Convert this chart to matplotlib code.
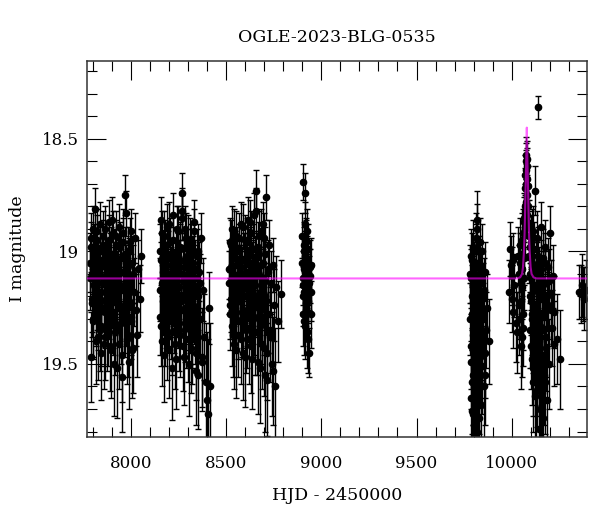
import matplotlib
matplotlib.use('Agg')
import matplotlib.pyplot as plt
from matplotlib.ticker import MultipleLocator

plt.rcParams['font.family'] = ['DejaVu Serif']

# season 1
s1_hjd = [7786, 7789, 7791, 7795, 7798, 7801, 7804, 7806, 7810, 7813,
          7817, 7820, 7823, 7827, 7830, 7834, 7837, 7841, 7844, 7848,
          7851, 7855, 7858, 7862, 7866, 7869, 7873, 7876, 7880, 7884,
          7887, 7891, 7895, 7898, 7902, 7906, 7909, 7913, 7917, 7921,
          7924, 7928, 7932, 7936, 7940, 7943, 7947, 7951, 7955, 7959,
          7963, 7967, 7971, 7975, 7979, 7983, 7987, 7991, 7995, 7999,
          8003, 8008, 8012, 8017, 8022, 8028, 8034, 8040, 8047, 8056,
          7788, 7793, 7797, 7800, 7803, 7808, 7812, 7815, 7819, 7822,
          7825, 7829, 7832, 7836, 7839, 7843, 7846, 7850, 7853, 7857,
          7860, 7864, 7867, 7871, 7875, 7878, 7882, 7886, 7889, 7893,
          7897, 7900, 7904, 7908, 7911, 7915, 7919, 7922, 7926, 7930,
          7934, 7938, 7942, 7945, 7949, 7953, 7957, 7961, 7965, 7969,
          7973, 7977, 7981, 7985, 7989, 7993, 7997, 8001, 8006, 8014]
s1_mag = [19.05, 19.47, 18.98, 19.21, 19.10, 18.90, 19.30, 19.15, 18.81, 19.02,
          19.26, 19.12, 18.95, 19.38, 19.08, 19.18, 18.88, 19.22, 19.33, 19.04,
          19.14, 18.93, 19.41, 19.11, 19.27, 18.99, 19.16, 19.35, 19.06, 18.87,
          19.24, 19.13, 19.44, 19.01, 19.19, 18.92, 19.29, 19.09, 19.36, 18.97,
          19.20, 19.52, 19.07, 18.89, 19.25, 19.15, 19.32, 19.03, 19.46, 18.96,
          19.17, 18.75, 19.28, 19.10, 19.39, 19.00, 19.23, 19.49, 19.12, 18.91,
          19.31, 19.05, 19.43, 19.18, 18.94, 19.26, 19.37, 19.08, 19.21, 19.02,
          19.12, 18.94, 19.23, 19.07, 19.31, 18.99, 19.16, 19.40, 19.03, 19.20,
          18.91, 19.28, 19.10, 19.35, 19.00, 19.18, 19.45, 19.06, 18.97, 19.25,
          19.13, 19.38, 18.90, 19.21, 19.08, 19.33, 19.15, 18.95, 19.42, 19.04,
          19.19, 18.86, 19.27, 19.11, 19.50, 19.02, 19.22, 18.93, 19.34, 19.14,
          19.05, 19.41, 18.98, 19.24, 19.09, 19.56, 19.17, 18.92, 19.30, 19.01,
          19.26, 18.83, 19.13, 19.37, 19.06, 19.22, 18.96, 19.29, 19.44, 19.10]
s1_err = [0.13, 0.20, 0.11, 0.15, 0.13, 0.10, 0.17, 0.14, 0.09, 0.12,
          0.16, 0.13, 0.11, 0.19, 0.12, 0.15, 0.10, 0.15, 0.18, 0.12,
          0.14, 0.11, 0.20, 0.13, 0.16, 0.11, 0.14, 0.18, 0.12, 0.10,
          0.15, 0.13, 0.21, 0.12, 0.15, 0.10, 0.17, 0.13, 0.19, 0.11,
          0.15, 0.22, 0.12, 0.10, 0.16, 0.14, 0.18, 0.12, 0.21, 0.11,
          0.14, 0.09, 0.17, 0.13, 0.20, 0.11, 0.15, 0.21, 0.14, 0.10,
          0.17, 0.12, 0.20, 0.15, 0.11, 0.16, 0.19, 0.13, 0.15, 0.12,
          0.14, 0.11, 0.15, 0.12, 0.17, 0.11, 0.14, 0.19, 0.12, 0.15,
          0.10, 0.16, 0.13, 0.18, 0.11, 0.15, 0.21, 0.12, 0.11, 0.16,
          0.13, 0.19, 0.10, 0.15, 0.13, 0.18, 0.14, 0.11, 0.20, 0.12,
          0.15, 0.10, 0.16, 0.13, 0.23, 0.12, 0.15, 0.11, 0.18, 0.14,
          0.12, 0.20, 0.11, 0.16, 0.13, 0.24, 0.14, 0.11, 0.17, 0.12,
          0.16, 0.10, 0.14, 0.19, 0.12, 0.15, 0.11, 0.17, 0.21, 0.13]

# season 2
s2_hjd = [8152, 8155, 8159, 8162, 8166, 8169, 8173, 8176, 8180, 8183,
          8187, 8190, 8194, 8197, 8201, 8204, 8208, 8211, 8215, 8218,
          8222, 8225, 8229, 8232, 8236, 8239, 8243, 8246, 8250, 8253,
          8257, 8260, 8264, 8267, 8269, 8272, 8275, 8279, 8282, 8286,
          8289, 8293, 8296, 8300, 8303, 8307, 8310, 8314, 8317, 8321,
          8324, 8328, 8331, 8335, 8339, 8343, 8347, 8351, 8355, 8359,
          8364, 8369, 8374, 8380, 8386, 8393, 8399, 8404, 8410, 8418,
          8154, 8157, 8161, 8164, 8168, 8171, 8175, 8178, 8182, 8185,
          8189, 8192, 8196, 8199, 8203, 8206, 8210, 8213, 8217, 8220,
          8224, 8227, 8231, 8234, 8238, 8241, 8245, 8248, 8252, 8255,
          8259, 8262, 8266, 8271, 8274, 8277, 8281, 8284, 8288, 8291,
          8295, 8298, 8302, 8305, 8309, 8312, 8316, 8319, 8323, 8326,
          8330, 8333, 8337, 8341, 8345, 8349, 8353, 8357, 8362, 8372]
s2_mag = [19.00, 19.29, 18.86, 19.14, 19.40, 19.06, 19.21, 18.93, 19.33, 19.11,
          19.18, 18.89, 19.26, 19.03, 19.44, 19.15, 18.96, 19.23, 19.09, 19.36,
          18.84, 19.19, 19.12, 19.31, 19.01, 19.48, 19.16, 18.91, 19.27, 19.07,
          19.37, 18.98, 19.22, 18.82, 18.74, 19.13, 19.42, 19.04, 19.25, 18.90,
          19.34, 19.10, 19.19, 18.95, 19.50, 19.08, 19.28, 18.99, 19.15, 19.39,
          19.05, 19.24, 18.87, 19.32, 19.12, 19.45, 19.02, 19.20, 19.55, 19.09,
          19.30, 18.94, 19.47, 19.17, 19.38, 19.58, 19.66, 19.72, 19.25, 19.60,
          19.17, 19.04, 19.33, 18.92, 19.22, 19.09, 19.46, 19.13, 18.97, 19.27,
          19.06, 19.38, 19.15, 18.88, 19.24, 19.01, 19.31, 19.11, 19.52, 19.19,
          18.95, 19.29, 19.08, 19.41, 19.14, 18.90, 19.23, 19.03, 19.35, 19.16,
          18.99, 19.26, 19.10, 18.85, 19.20, 19.47, 19.07, 19.32, 18.94, 19.18,
          19.02, 19.39, 19.12, 19.28, 18.96, 19.21, 19.43, 19.05, 19.34, 19.15,
          18.91, 19.25, 19.08, 19.53, 19.17, 19.36, 19.00, 19.30, 19.14, 19.49]
s2_err = [0.12, 0.17, 0.10, 0.14, 0.20, 0.13, 0.15, 0.11, 0.18, 0.13,
          0.15, 0.10, 0.16, 0.12, 0.21, 0.14, 0.11, 0.15, 0.13, 0.19,
          0.10, 0.15, 0.13, 0.17, 0.12, 0.22, 0.14, 0.11, 0.16, 0.12,
          0.19, 0.11, 0.15, 0.10, 0.09, 0.13, 0.20, 0.12, 0.16, 0.10,
          0.18, 0.13, 0.15, 0.11, 0.23, 0.12, 0.17, 0.11, 0.14, 0.20,
          0.12, 0.16, 0.10, 0.18, 0.13, 0.21, 0.12, 0.15, 0.24, 0.13,
          0.17, 0.11, 0.22, 0.14, 0.19, 0.26, 0.30, 0.33, 0.16, 0.28,
          0.14, 0.12, 0.18, 0.10, 0.15, 0.13, 0.21, 0.14, 0.11, 0.16,
          0.12, 0.19, 0.14, 0.10, 0.15, 0.12, 0.17, 0.13, 0.23, 0.14,
          0.11, 0.16, 0.13, 0.20, 0.14, 0.10, 0.15, 0.12, 0.18, 0.14,
          0.11, 0.16, 0.13, 0.10, 0.15, 0.21, 0.12, 0.17, 0.11, 0.14,
          0.12, 0.19, 0.13, 0.16, 0.11, 0.15, 0.20, 0.12, 0.18, 0.14,
          0.10, 0.16, 0.13, 0.24, 0.14, 0.19, 0.12, 0.17, 0.13, 0.22]

# season 3
s3_hjd = [8516, 8519, 8523, 8526, 8530, 8533, 8537, 8540, 8544, 8547,
          8551, 8554, 8558, 8561, 8565, 8568, 8572, 8575, 8579, 8582,
          8586, 8589, 8593, 8596, 8600, 8603, 8607, 8610, 8614, 8617,
          8621, 8624, 8628, 8631, 8635, 8638, 8642, 8645, 8649, 8652,
          8655, 8658, 8662, 8665, 8669, 8672, 8676, 8679, 8683, 8686,
          8690, 8693, 8697, 8700, 8704, 8707, 8710, 8714, 8718, 8722,
          8726, 8730, 8735, 8740, 8745, 8751, 8757, 8764, 8772, 8790,
          8518, 8521, 8525, 8528, 8532, 8535, 8539, 8542, 8546, 8549,
          8553, 8556, 8560, 8563, 8567, 8570, 8574, 8577, 8581, 8584,
          8588, 8591, 8595, 8598, 8602, 8605, 8609, 8612, 8616, 8619,
          8623, 8626, 8630, 8633, 8637, 8640, 8644, 8647, 8651, 8654,
          8657, 8660, 8664, 8667, 8671, 8674, 8678, 8681, 8685, 8688,
          8692, 8695, 8699, 8702, 8706, 8712, 8716, 8720, 8733, 8748]
s3_mag = [19.08, 18.96, 19.24, 19.13, 18.90, 19.33, 19.02, 19.19, 19.41, 19.11,
          18.93, 19.27, 19.06, 19.16, 19.37, 18.99, 19.22, 19.10, 18.88, 19.30,
          19.14, 19.45, 19.04, 19.20, 18.95, 19.35, 19.09, 19.26, 18.86, 19.17,
          19.39, 19.01, 19.23, 18.92, 19.12, 19.48, 19.07, 18.84, 19.29, 19.15,
          19.03, 18.73, 19.21, 19.36, 18.98, 19.25, 19.11, 19.52, 18.91, 19.18,
          19.32, 19.05, 19.43, 18.94, 19.20, 19.13, 18.76, 19.57, 19.09, 19.28,
          18.97, 19.38, 19.14, 19.50, 19.06, 19.24, 19.60, 19.16, 19.31, 19.19,
          19.14, 19.28, 18.97, 19.21, 19.06, 19.37, 19.12, 18.91, 19.25, 19.03,
          19.44, 19.17, 19.00, 19.31, 19.10, 18.94, 19.22, 19.39, 19.07, 19.16,
          18.89, 19.27, 19.13, 19.47, 19.04, 19.20, 18.96, 19.34, 19.11, 19.25,
          19.02, 18.87, 19.18, 19.42, 19.08, 19.30, 18.99, 19.15, 19.36, 19.05,
          18.82, 19.23, 19.10, 19.49, 19.19, 18.93, 19.33, 19.06, 19.26, 19.41,
          19.12, 18.88, 19.29, 19.55, 19.01, 19.22, 19.45, 19.08, 19.35, 19.53]
s3_err = [0.13, 0.11, 0.15, 0.13, 0.10, 0.18, 0.12, 0.14, 0.20, 0.13,
          0.11, 0.16, 0.12, 0.14, 0.19, 0.11, 0.15, 0.13, 0.10, 0.17,
          0.14, 0.21, 0.12, 0.15, 0.11, 0.19, 0.13, 0.16, 0.10, 0.14,
          0.20, 0.12, 0.15, 0.10, 0.13, 0.22, 0.12, 0.10, 0.17, 0.14,
          0.12, 0.09, 0.15, 0.19, 0.11, 0.16, 0.13, 0.24, 0.10, 0.14,
          0.18, 0.12, 0.21, 0.11, 0.15, 0.13, 0.10, 0.25, 0.13, 0.17,
          0.11, 0.20, 0.14, 0.23, 0.12, 0.16, 0.26, 0.14, 0.18, 0.15,
          0.14, 0.16, 0.11, 0.15, 0.12, 0.19, 0.13, 0.10, 0.16, 0.12,
          0.21, 0.14, 0.11, 0.17, 0.13, 0.11, 0.15, 0.20, 0.12, 0.14,
          0.10, 0.16, 0.13, 0.22, 0.12, 0.15, 0.11, 0.18, 0.13, 0.16,
          0.12, 0.10, 0.14, 0.21, 0.12, 0.17, 0.11, 0.14, 0.19, 0.12,
          0.10, 0.15, 0.13, 0.23, 0.14, 0.11, 0.18, 0.12, 0.16, 0.20,
          0.13, 0.10, 0.17, 0.25, 0.12, 0.15, 0.21, 0.13, 0.19, 0.24]

# season 4
s4_hjd = [8900, 8901, 8903, 8904, 8906, 8907, 8909, 8910, 8912, 8914,
          8915, 8917, 8918, 8920, 8922, 8924, 8926, 8928, 8931, 8934,
          8937, 8940, 8944, 8948,
          8902, 8905, 8908, 8911, 8913, 8916, 8919, 8921, 8923, 8925,
          8929, 8932, 8939, 8946]
s4_mag = [19.05, 18.93, 18.69, 19.20, 19.12, 18.97, 19.31, 19.08, 18.88, 18.74,
          19.16, 19.02, 19.26, 18.95, 19.10, 19.36, 19.04, 19.22, 18.99, 19.14,
          19.45, 19.07, 19.18, 19.28,
          19.15, 19.28, 19.00, 19.18, 19.33, 19.09, 18.96, 19.23, 19.13, 18.91,
          19.19, 19.39, 19.11, 19.06]
s4_err = [0.11, 0.10, 0.08, 0.13, 0.12, 0.10, 0.15, 0.11, 0.10, 0.09,
          0.13, 0.11, 0.14, 0.10, 0.12, 0.16, 0.11, 0.13, 0.11, 0.12,
          0.11, 0.12, 0.13, 0.15,
          0.12, 0.14, 0.11, 0.13, 0.15, 0.12, 0.10, 0.13, 0.12, 0.10,
          0.13, 0.15, 0.12, 0.12]

# season 5
s5_hjd = [9782, 9784, 9786, 9788, 9790, 9792, 9794, 9796, 9798, 9800,
          9802, 9804, 9806, 9808, 9810, 9812, 9814, 9816, 9818, 9820,
          9822, 9824, 9826, 9828, 9830, 9832, 9834, 9836, 9838, 9840,
          9843, 9846, 9849, 9852, 9855, 9858, 9862, 9866, 9872, 9880,
          9783, 9785, 9787, 9789, 9791, 9793, 9795, 9797, 9799, 9801,
          9803, 9805, 9807, 9809, 9811, 9813, 9815, 9817, 9819, 9821,
          9823, 9825, 9827, 9829, 9831, 9835, 9839, 9845, 9851, 9860]
s5_mag = [19.10, 19.42, 19.65, 19.02, 19.28, 19.71, 19.15, 18.98, 19.55, 19.36,
          19.77, 19.08, 19.24, 19.48, 18.94, 19.62, 19.19, 19.33, 18.90, 18.86,
          19.44, 19.05, 19.58, 19.27, 19.74, 19.13, 18.96, 19.39, 19.68, 19.21,
          19.51, 19.00, 19.30, 19.60, 19.17, 19.45, 19.09, 19.35, 19.25, 19.40,
          19.30, 19.12, 19.49, 19.20, 19.04, 19.58, 19.37, 19.15, 19.72, 19.25,
          19.08, 19.43, 19.66, 19.18, 19.33, 19.00, 19.52, 19.27, 19.80, 19.11,
          19.36, 19.63, 19.22, 19.05, 19.47, 19.31, 19.14, 19.40, 19.20, 19.55]
s5_err = [0.13, 0.19, 0.25, 0.12, 0.16, 0.27, 0.13, 0.12, 0.22, 0.18,
          0.30, 0.12, 0.15, 0.20, 0.11, 0.24, 0.14, 0.17, 0.11, 0.13,
          0.19, 0.12, 0.23, 0.15, 0.28, 0.13, 0.11, 0.18, 0.26, 0.14,
          0.21, 0.12, 0.16, 0.24, 0.14, 0.20, 0.13, 0.17, 0.15, 0.19,
          0.16, 0.13, 0.21, 0.14, 0.12, 0.23, 0.18, 0.14, 0.27, 0.15,
          0.12, 0.19, 0.25, 0.14, 0.17, 0.12, 0.21, 0.16, 0.31, 0.13,
          0.18, 0.24, 0.15, 0.12, 0.20, 0.16, 0.14, 0.19, 0.15, 0.22]

# season 6 (event)
s6_hjd = [9988, 9991, 9995, 9999, 10003, 10006, 10009, 10013, 10020, 10027,
          10033, 10038, 10042, 10046, 10050, 10053, 10056, 10058, 10061, 10063,
          10065, 10067, 10069, 10071, 10072, 10073, 10074, 10075, 10076, 10077,
          10078, 10079, 10080, 10081, 10082, 10084, 10086, 10088, 10090, 10092,
          10095, 10097, 10099, 10101, 10104, 10106, 10108, 10110, 10113, 10115,
          10118, 10121, 10123, 10126, 10128, 10131, 10133, 10136, 10138, 10140,
          10143, 10145, 10148, 10151, 10154, 10157, 10160, 10163, 10165, 10168,
          10171, 10174, 10177, 10180, 10184, 10188, 10192, 10196, 10200, 10205,
          10210, 10216, 10224, 10236, 10252,
          10036, 10040, 10044, 10048, 10052, 10055, 10059, 10062, 10066, 10070,
          10096, 10098, 10100, 10103, 10105, 10107, 10109, 10112, 10114, 10117,
          10119, 10122, 10125, 10127, 10130, 10132, 10135, 10139, 10142, 10146,
          10149, 10152, 10155, 10158, 10161, 10166, 10169, 10172, 10176, 10182,
          10186, 10190, 10198, 10207, 10220]
s6_mag = [19.18, 18.99, 19.06, 19.11, 19.21, 19.04, 19.27, 19.15, 19.32, 19.36,
          19.02, 19.24, 18.97, 19.14, 19.42, 19.38, 19.08, 18.92, 19.28, 18.87,
          19.12, 18.80, 18.72, 18.90, 18.66, 18.60, 18.78, 18.57, 18.64, 18.70,
          18.59, 18.62, 18.68, 18.75, 18.84, 18.71, 18.80, 18.93, 19.02, 18.88,
          19.10, 19.35, 18.96, 19.22, 19.48, 19.05, 19.30, 19.58, 18.91, 19.16,
          19.40, 18.73, 19.64, 19.08, 19.26, 19.52, 18.94, 19.18, 18.36, 19.44,
          19.79, 19.12, 19.33, 19.60, 18.89, 19.21, 19.46, 19.03, 19.74, 19.29,
          19.55, 18.98, 19.14, 19.38, 19.66, 19.07, 19.24, 19.50, 18.92, 19.19,
          19.34, 19.11, 19.27, 19.39, 19.48,
          19.10, 19.30, 19.05, 19.22, 18.95, 19.16, 19.34, 19.03, 18.85, 18.82,
          19.20, 18.98, 19.42, 19.12, 19.28, 18.93, 19.52, 19.07, 19.36, 19.15,
          18.99, 19.45, 19.24, 19.62, 19.10, 19.31, 19.56, 19.02, 19.40, 19.70,
          19.19, 19.48, 19.08, 19.35, 19.63, 19.14, 19.27, 19.58, 19.05, 19.43,
          19.20, 19.34, 19.13, 19.26, 19.41]
s6_err = [0.14, 0.12, 0.13, 0.13, 0.15, 0.12, 0.16, 0.14, 0.17, 0.18,
          0.13, 0.15, 0.12, 0.14, 0.19, 0.18, 0.13, 0.11, 0.16, 0.11,
          0.14, 0.10, 0.09, 0.11, 0.09, 0.08, 0.10, 0.08, 0.09, 0.09,
          0.08, 0.08, 0.09, 0.09, 0.10, 0.09, 0.10, 0.11, 0.12, 0.11,
          0.13, 0.17, 0.12, 0.15, 0.20, 0.13, 0.16, 0.22, 0.11, 0.14,
          0.18, 0.11, 0.24, 0.13, 0.16, 0.21, 0.12, 0.15, 0.05, 0.19,
          0.30, 0.14, 0.17, 0.23, 0.11, 0.15, 0.19, 0.13, 0.28, 0.16,
          0.22, 0.12, 0.14, 0.18, 0.25, 0.13, 0.15, 0.20, 0.12, 0.15,
          0.17, 0.14, 0.16, 0.20, 0.22,
          0.13, 0.16, 0.13, 0.15, 0.12, 0.14, 0.17, 0.12, 0.11, 0.10,
          0.15, 0.12, 0.19, 0.14, 0.16, 0.12, 0.21, 0.13, 0.18, 0.14,
          0.12, 0.20, 0.15, 0.24, 0.14, 0.17, 0.22, 0.13, 0.19, 0.27,
          0.15, 0.20, 0.13, 0.18, 0.24, 0.14, 0.16, 0.23, 0.13, 0.19,
          0.15, 0.17, 0.14, 0.16, 0.19]

# season 7
s7_hjd = [10352, 10362, 10368, 10375, 10381, 10390]
s7_mag = [19.18, 19.19, 19.15, 19.19, 19.21, 19.17]
s7_err = [0.12, 0.13, 0.14, 0.12, 0.14, 0.13]

# model curve
model_hjd = [7700, 10029, 10044, 10054, 10059, 10064, 10067, 10070, 10073, 10075,
             10077, 10079, 10081, 10083, 10085, 10088, 10091, 10094, 10099, 10104,
             10114, 10129, 10450]
model_mag = [19.12, 19.12, 19.115, 19.10, 19.07, 19.00, 18.93, 18.82, 18.70, 18.63,
             18.55, 18.45, 18.55, 18.63, 18.70, 18.82, 18.93, 19.00, 19.07, 19.10,
             19.115, 19.12, 19.12]

fig = plt.figure(figsize=(6, 5.12), dpi=100)
ax = fig.add_axes([87/600, 1 - 436.7/512, 500/600, 375.5/512])

seasons = [(s1_hjd, s1_mag, s1_err), (s2_hjd, s2_mag, s2_err), (s3_hjd, s3_mag, s3_err),
           (s4_hjd, s4_mag, s4_err), (s5_hjd, s5_mag, s5_err), (s6_hjd, s6_mag, s6_err),
           (s7_hjd, s7_mag, s7_err)]
for t, m, e in seasons:
    ax.errorbar(t, m, yerr=e, fmt='o', color='black', ms=4.5, ecolor='black',
                elinewidth=1.0, capsize=2.2, capthick=1.0, zorder=2)

ax.plot(model_hjd, model_mag, color='magenta', alpha=0.6, lw=1.5, zorder=3)

ax.set_xlim(7770, 10395)
ax.set_ylim(19.823, 18.155)
ax.xaxis.set_major_locator(MultipleLocator(500))
ax.xaxis.set_minor_locator(MultipleLocator(100))
ax.yaxis.set_major_locator(MultipleLocator(0.5))
ax.yaxis.set_minor_locator(MultipleLocator(0.1))
ax.set_yticks([18.5, 19, 19.5])
ax.set_yticklabels(['18.5', '19', '19.5'])
ax.tick_params(which='both', direction='in', top=True, right=True, width=0.8, labelsize=12)
ax.tick_params(which='major', length=14)
ax.tick_params(which='minor', length=7)
ax.tick_params(axis='x', pad=13)
ax.tick_params(axis='y', pad=6)
for s in ax.spines.values():
    s.set_linewidth(1.1)
    s.set_color('#333333')

ax.set_title('OGLE-2023-BLG-0535', fontsize=12.5, pad=14)
ax.set_xlabel('HJD - 2450000', fontsize=12.5, labelpad=11)
ax.set_ylabel('I magnitude', fontsize=12.5, labelpad=11)

plt.savefig('out.png', dpi=100)
